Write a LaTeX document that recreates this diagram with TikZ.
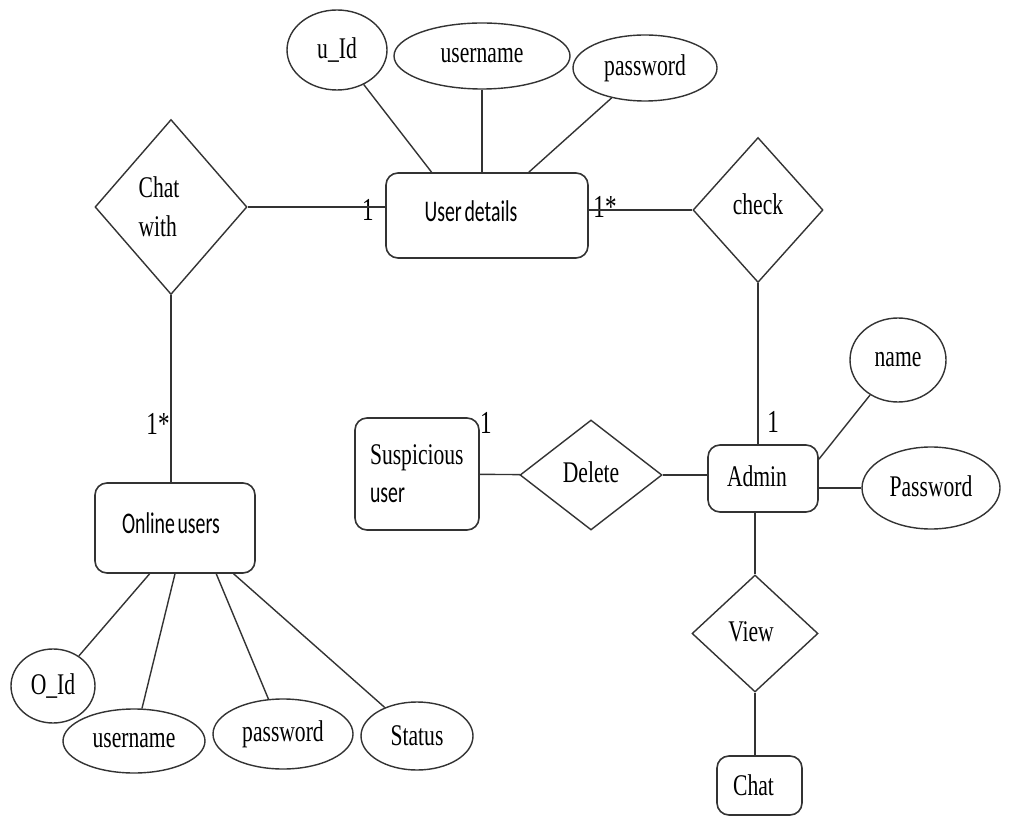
\documentclass[tikz,border=0pt]{standalone}
\usepackage{fontspec}
\setmainfont{Liberation Serif}[FakeStretch=0.72]
\newfontfamily\boxfont{Carlito}[FakeStretch=0.66, WordSpace=0.6]
\usetikzlibrary{shapes.geometric}

\newcommand{\erfont}{\fontsize{15}{19}\selectfont}
\newcommand{\padr}[1]{\hspace*{#1}\null}

\begin{document}
\begin{tikzpicture}[
    x=0.5pt, y=-0.5pt,
    every node/.style={font=\erfont},
    entity/.style={rectangle, rounded corners=6pt, draw=black!80, line width=0.8pt, inner sep=0pt},
    attr/.style={ellipse, draw=black!80, line width=0.7pt, inner sep=0pt},
    rel/.style={diamond, draw=black!80, line width=0.7pt, inner sep=0pt},
    card/.style={inner sep=0pt, font=\fontsize{16}{19}\selectfont},
    link/.style={draw=black!80, line width=0.7pt}
]
\useasboundingbox[fill=white] (0,0) rectangle (1010,817);

% ==================== ENTITIES ====================
\node[entity, minimum width=101pt, minimum height=42.5pt, font=\boxfont\erfont] (ud) at (487,215.5) {\raisebox{4pt}{User details}\padr{16pt}};
\node[entity, minimum width=80pt, minimum height=45pt, font=\boxfont\erfont] (ou) at (175,528) {\raisebox{5pt}{Online users}\padr{4pt}};
\node[entity, minimum width=62pt, minimum height=56pt, align=left, text width=47pt] (sus) at (417,474) {Suspicious\\{\boxfont user}};
\node[entity, minimum width=55pt, minimum height=33.5pt] (adm) at (763,478.5) {\raisebox{2pt}{Admin}\padr{6pt}};
\node[entity, minimum width=42.5pt, minimum height=29.5pt] (chat) at (759.5,785.5) {Chat\padr{6pt}};

% ==================== RELATIONSHIPS ====================
\node[rel, minimum width=76pt, minimum height=87.5pt] (cw) at (171,207) {\shortstack[l]{Chat\\[6pt]with}\padr{12pt}};
\node[rel, minimum width=65pt, minimum height=72.5pt] (check) at (758,210) {\raisebox{6pt}{check}};
\node[rel, minimum width=71pt, minimum height=55pt] (del) at (591,475) {\raisebox{3pt}{Delete}};
\node[rel, minimum width=63pt, minimum height=58.5pt] (view) at (755,633.5) {\raisebox{2pt}{View}\padr{4pt}};

% ==================== ATTRIBUTES ====================
\node[attr, minimum width=50pt, minimum height=40pt] (uid) at (337,50) {\raisebox{2pt}{u\_Id}};
\node[attr, minimum width=88pt, minimum height=33pt] (un) at (482,56) {username};
\node[attr, minimum width=72pt, minimum height=33pt] (upw) at (645,68) {password};

\node[attr, minimum width=42pt, minimum height=37pt] (oid) at (53,686) {O\_Id};
\node[attr, minimum width=71pt, minimum height=32pt] (oun) at (134,741) {username};
\node[attr, minimum width=70pt, minimum height=35pt] (opw) at (283,734) {password};
\node[attr, minimum width=56pt, minimum height=34pt] (st) at (417,736) {Status};

\node[attr, minimum width=48pt, minimum height=42pt] (name) at (898,360) {name};
\node[attr, minimum width=69pt, minimum height=41pt] (apw) at (931,488) {\raisebox{2pt}{Password}};

% ==================== CARDINALITIES ====================
\node[card] (c1) at (368,210) {1};
\node[card] (c2) at (605,207) {1*};
\node[card] (c3) at (158,424) {1*};
\node[card] (c4) at (486,423) {1};
\node[card] (c5) at (773,422) {1};

% ==================== CONNECTORS ====================
% User details
\draw[link] (uid) -- (ud.142);
\draw[link] (un) -- (un |- ud.north);
\draw[link] (upw) -- (ud.46);
\draw[link] (cw) -- (cw -| ud.west);
\draw[link] (check) -- (check -| ud.east);

% Online users
\draw[link] (cw) -- (cw |- ou.north);
\draw[link] (ou.241) -- (oid);
\draw[link] (ou.south) -- (oun);
\draw[link] (ou.312) -- (opw);
\draw[link] (ou.322) -- (st);

% Admin
\draw[link] (check) -- (check |- adm.north);
\draw[link] (adm.19) -- (name);
\draw[link] (adm.east |- apw) -- (apw);
\draw[link] (sus) -- (del);
\draw[link] (del) -- (del -| adm.west);
\draw[link] (view) -- (view |- adm.south);
\draw[link] (view) -- (view |- chat.north);

\end{tikzpicture}
\end{document}
